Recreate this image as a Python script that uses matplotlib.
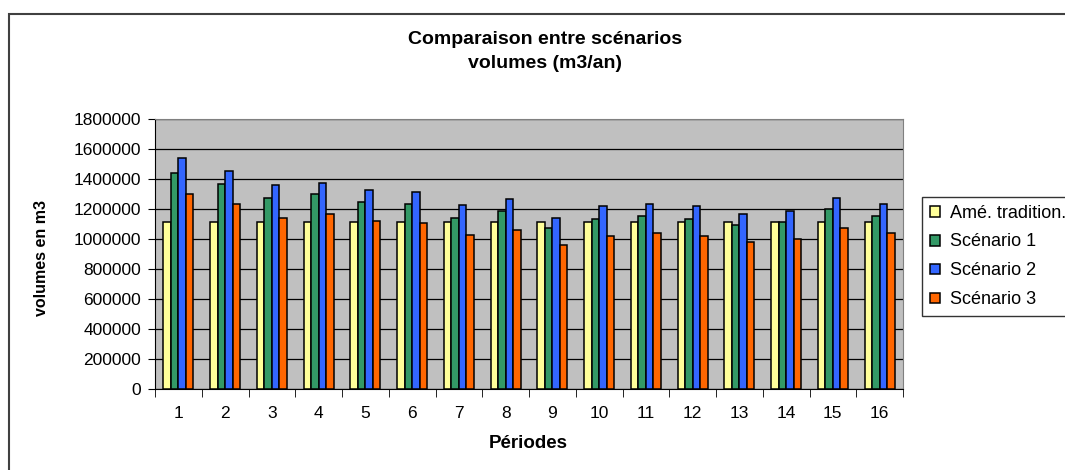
import numpy as np
import matplotlib.pyplot as plt
from matplotlib.patches import Rectangle

plt.rcParams['font.family'] = ['Liberation Sans', 'DejaVu Sans']

periodes = [str(i) for i in range(1, 17)]
ame_trad = [1112000] * 16
scenario1 = [1441000, 1367000, 1275000, 1298000, 1246000, 1233000, 1143000, 1186000,
             1074000, 1134000, 1152000, 1134000, 1092000, 1112000, 1197000, 1152000]
scenario2 = [1537000, 1456000, 1358000, 1376000, 1327000, 1315000, 1224000, 1264000,
             1143000, 1217000, 1233000, 1217000, 1166000, 1186000, 1275000, 1233000]
scenario3 = [1298000, 1233000, 1143000, 1166000, 1121000, 1105000, 1029000, 1060000,
             962000, 1022000, 1043000, 1022000, 978000, 1002000, 1074000, 1043000]

series = [("Amé. tradition.", ame_trad, "#FFFF99"),
          ("Scénario 1", scenario1, "#339966"),
          ("Scénario 2", scenario2, "#3366FF"),
          ("Scénario 3", scenario3, "#FF6600")]

fig = plt.figure(figsize=(10.65, 4.7), dpi=100)
# outer frame of the chart (right and bottom edges fall outside the picture)
fig.patches.append(Rectangle((9 / 1065, -0.2), 1.2, 1.2 - 14 / 470, transform=fig.transFigure,
                             fill=False, edgecolor="#404040", linewidth=1.5))

ax = fig.add_axes([155 / 1065, 1 - 389 / 470, (903 - 155) / 1065, (389 - 119) / 470])
ax.set_facecolor("#C0C0C0")

x = np.arange(len(periodes))
w = 0.16
for i, (name, vals, col) in enumerate(series):
    ax.bar(x + (i - 1.5) * w, vals, w, color=col, edgecolor="black", linewidth=1.1,
           label=name, zorder=3)

ax.set_xlim(-0.5, len(periodes) - 0.5)
ax.set_ylim(0, 1800000)
ax.set_yticks(np.arange(0, 1800001, 200000))
ax.set_yticklabels([str(v) for v in range(0, 1800001, 200000)], fontsize=12.5)
ax.yaxis.grid(True, color="black", linewidth=0.9, zorder=1)
ax.set_axisbelow(True)

ax.set_xticks(x)
ax.set_xticklabels(periodes, fontsize=12.5)
ax.tick_params(axis="x", which="major", length=0, pad=12)
ax.set_xticks(np.arange(-0.5, len(periodes), 1), minor=True)
ax.tick_params(axis="x", which="minor", length=6, color="black")
ax.tick_params(axis="y", length=5, color="black", pad=5)

for s in ["top", "right"]:
    ax.spines[s].set_color("#808080")
for s in ["left", "bottom"]:
    ax.spines[s].set_color("black")

fig.text(528 / 1065, 1 - 444 / 470, "Périodes", ha="center", va="center",
         fontsize=13.5, fontweight="bold")
fig.text(42 / 1065, 1 - 258 / 470, "volumes en m3", ha="center", va="center",
         rotation=90, fontsize=11.5, fontweight="bold")

fig.text(545 / 1065, 1 - 39 / 470, "Comparaison entre scénarios", ha="center", va="center",
         fontsize=14, fontweight="bold")
fig.text(545 / 1065, 1 - 63 / 470, "volumes (m3/an)", ha="center", va="center",
         fontsize=14, fontweight="bold")

leg = ax.legend(loc="upper left", bbox_to_anchor=(922 / 1065, 1 - 197 / 470),
                bbox_transform=fig.transFigure, fontsize=13, frameon=True, fancybox=False,
                edgecolor="black", handlelength=0.55, handleheight=0.55, handletextpad=0.6,
                labelspacing=0.66, borderpad=0.42, borderaxespad=0)
leg.get_frame().set_linewidth(1)

fig.savefig("out.png", dpi=100)
